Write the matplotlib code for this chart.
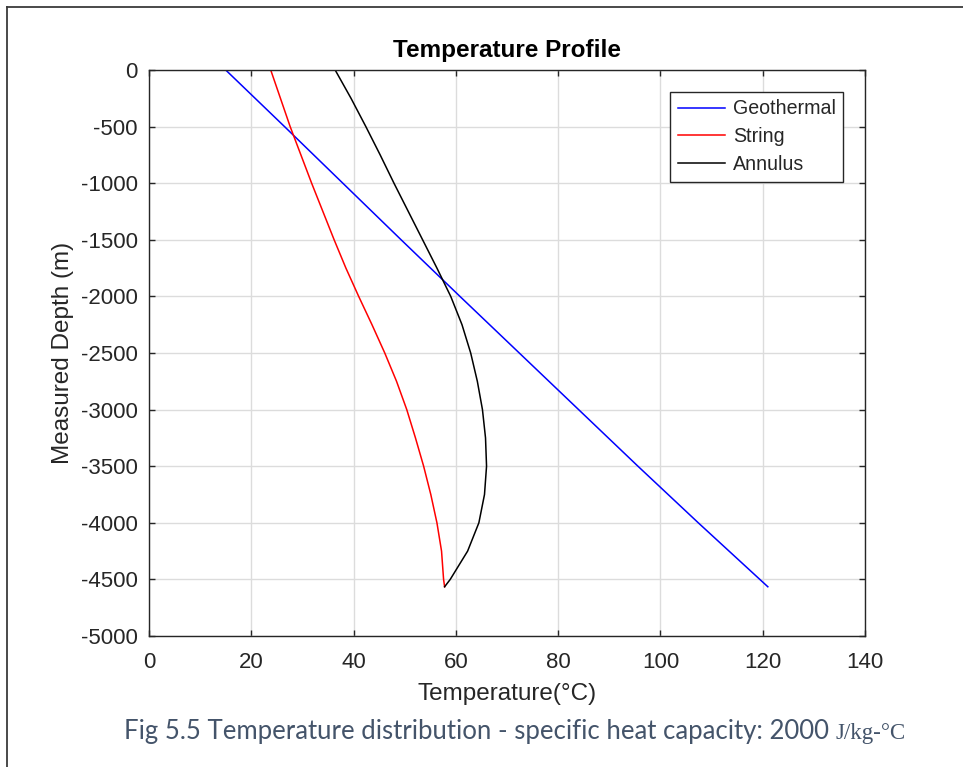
import matplotlib
matplotlib.use("Agg")
import matplotlib.pyplot as plt
from matplotlib.lines import Line2D

plt.rcParams['font.family'] = ['Liberation Sans', 'DejaVu Sans']
plt.rcParams['axes.unicode_minus'] = False

# ---- data ----
geo_depth = [0, -500, -1000, -1500, -2000, -2500, -3000, -3500, -4000, -4565]
geo_temp = [15.0, 26.5, 37.9, 49.3, 60.8, 72.4, 84.0, 95.6, 107.4, 121.0]

depth = [0, -250, -500, -750, -1000, -1250, -1500, -1750, -2000, -2250,
         -2500, -2750, -3000, -3250, -3500, -3750, -4000, -4250, -4500, -4565]
string_temp = [23.8, 25.7, 27.6, 29.7, 31.8, 34.0, 36.2, 38.5, 41.0, 43.6,
               46.1, 48.4, 50.4, 52.1, 53.7, 55.1, 56.3, 57.2, 57.6, 57.8]
annulus_temp = [36.4, 39.5, 42.4, 45.2, 47.9, 50.7, 53.5, 56.3, 59.0, 61.2,
                62.9, 64.2, 65.2, 65.8, 66.0, 65.6, 64.5, 62.3, 58.9, 57.8]

series_names = ["Geothermal", "String", "Annulus"]
x_ticks = [0, 20, 40, 60, 80, 100, 120, 140]
y_ticks = [0, -500, -1000, -1500, -2000, -2500, -3000, -3500, -4000, -4500, -5000]

title = "Temperature Profile"
xlabel = "Temperature(°C)"
ylabel = "Measured Depth (m)"
caption_main = "Fig 5.5 Temperature distribution - specific heat capacity: 2000 "
caption_unit = "J/kg-°C"

# ---- figure ----
W, H = 963, 767
fig = plt.figure(figsize=(W / 100, H / 100), dpi=100)
fig.patch.set_facecolor("white")

ax = fig.add_axes([149 / W, 1 - 636 / H, (865 - 149) / W, (636 - 70) / H])

ax.plot(geo_temp, geo_depth, color="#0000ff", lw=1.1, label=series_names[0])
ax.plot(string_temp, depth, color="#ff0000", lw=1.1, label=series_names[1])
ax.plot(annulus_temp, depth, color="#000000", lw=1.1, label=series_names[2])

ax.set_xlim(0, 140)
ax.set_ylim(-5000, 0)
ax.set_xticks(x_ticks)
ax.set_yticks(y_ticks)
ax.set_xticklabels([str(v) for v in x_ticks])
ax.set_yticklabels([str(v) for v in y_ticks])

ax.grid(True, color="#dcdcdc", lw=1.0)
ax.set_axisbelow(True)
for s in ax.spines.values():
    s.set_color("#262626")
    s.set_linewidth(1.0)
ax.tick_params(direction="in", length=4, width=1.0, colors="#262626",
               labelcolor="#262626", labelsize=16, top=True, right=True)
ax.tick_params(axis="x", pad=11.5)
ax.tick_params(axis="y", pad=8)

ax.set_title(title, fontsize=17.5, fontweight="bold", color="#000000", pad=9)
ax.set_xlabel(xlabel, fontsize=17.5, color="#262626", labelpad=7)
ax.set_ylabel(ylabel, fontsize=17.5, color="#262626", labelpad=5)

leg = ax.legend(loc="upper right", fontsize=14.1, frameon=True, fancybox=False,
                edgecolor="#262626", framealpha=1, handlelength=2.4,
                handletextpad=0.4, labelspacing=0.45, borderpad=0.4,
                borderaxespad=1.1)
leg.get_frame().set_linewidth(1.0)
for t in leg.get_texts():
    t.set_color("#262626")

# outer screenshot border (left and top edges)
fig.add_artist(Line2D([7 / W, 7 / W], [0, 1 - 7 / H], transform=fig.transFigure,
                      color="#3a3a3a", lw=1.3))
fig.add_artist(Line2D([7 / W, 1], [1 - 7 / H, 1 - 7 / H], transform=fig.transFigure,
                      color="#3a3a3a", lw=1.3))

# caption: sans part + serif unit part
cap_color = "#44546A"
t1 = fig.text(124 / W, 1 - 739 / H, caption_main, fontsize=18.5,
              family=["Lato", "DejaVu Sans"], color=cap_color, ha="left", va="baseline")
fig.canvas.draw()
r = fig.canvas.get_renderer()
bb = t1.get_window_extent(r)
fig.text(bb.x1 / W, 1 - 739 / H, caption_unit, fontsize=16.5,
         family=["Liberation Serif", "DejaVu Serif"], color=cap_color, ha="left", va="baseline")

fig.savefig("out.png", dpi=100)
